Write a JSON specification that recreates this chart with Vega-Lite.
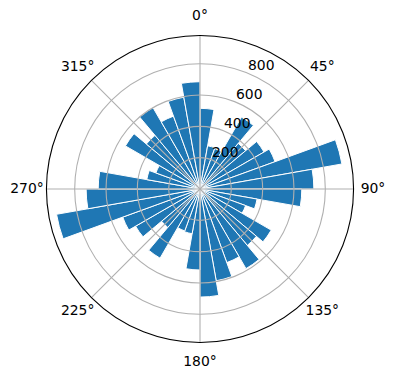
{
  "$schema": "https://vega.github.io/schema/vega-lite/v6.json",
  "autosize": "none",
  "width": 392,
  "height": 378,
  "padding": {"left": 4, "top": 0, "right": 0, "bottom": 2},
  "background": "white",
  "config": {"view": {"stroke": null}, "text": {"font": "DejaVu Sans"}},
  "datasets": {
    "bars": [
      {"t0": 0, "t1": 10, "v": 515},
      {"t0": 10, "t1": 20, "v": 280},
      {"t0": 20, "t1": 30, "v": 275},
      {"t0": 30, "t1": 40, "v": 530},
      {"t0": 40, "t1": 50, "v": 380},
      {"t0": 50, "t1": 60, "v": 472},
      {"t0": 60, "t1": 70, "v": 510},
      {"t0": 70, "t1": 80, "v": 920},
      {"t0": 80, "t1": 90, "v": 727},
      {"t0": 90, "t1": 100, "v": 650},
      {"t0": 100, "t1": 110, "v": 370},
      {"t0": 110, "t1": 120, "v": 310},
      {"t0": 120, "t1": 130, "v": 525},
      {"t0": 130, "t1": 140, "v": 470},
      {"t0": 140, "t1": 150, "v": 587},
      {"t0": 150, "t1": 160, "v": 500},
      {"t0": 160, "t1": 170, "v": 595},
      {"t0": 170, "t1": 180, "v": 690},
      {"t0": 180, "t1": 190, "v": 517},
      {"t0": 190, "t1": 200, "v": 290},
      {"t0": 200, "t1": 210, "v": 285},
      {"t0": 210, "t1": 220, "v": 510},
      {"t0": 220, "t1": 230, "v": 320},
      {"t0": 230, "t1": 240, "v": 475},
      {"t0": 240, "t1": 250, "v": 525},
      {"t0": 250, "t1": 260, "v": 930},
      {"t0": 260, "t1": 270, "v": 727},
      {"t0": 270, "t1": 280, "v": 650},
      {"t0": 280, "t1": 290, "v": 345},
      {"t0": 290, "t1": 300, "v": 300},
      {"t0": 300, "t1": 310, "v": 550},
      {"t0": 310, "t1": 320, "v": 447},
      {"t0": 320, "t1": 330, "v": 600},
      {"t0": 330, "t1": 340, "v": 495},
      {"t0": 340, "t1": 350, "v": 595},
      {"t0": 350, "t1": 360, "v": 685}
    ],
    "rings": [{"r": 200, "l": "200"}, {"r": 400, "l": "400"}, {"r": 600, "l": "600"}, {"r": 800, "l": "800"}],
    "spokes": [
      {"a": 0, "l": "0°"}, {"a": 45, "l": "45°"}, {"a": 90, "l": "90°"}, {"a": 135, "l": "135°"},
      {"a": 180, "l": "180°"}, {"a": 225, "l": "225°"}, {"a": 270, "l": "270°"}, {"a": 315, "l": "315°"}
    ]
  },
  "layer": [
    {
      "data": {"name": "bars"},
      "mark": {"type": "arc", "fill": "#1f77b4", "stroke": "white", "strokeWidth": 1},
      "encoding": {
        "theta": {"field": "t0", "type": "quantitative", "stack": null, "scale": {"domain": [0, 360], "range": [0, 6.283185307179586], "zero": false, "nice": false}},
        "theta2": {"field": "t1"},
        "radius": {"field": "v", "type": "quantitative", "scale": {"type": "linear", "domain": [0, 980], "range": [0, 153.5], "zero": true, "nice": false}},
        "radius2": {"datum": 0}
      }
    },
    {
      "data": {"name": "rings"},
      "mark": {"type": "arc", "fill": "transparent", "stroke": "#b0b0b0", "strokeWidth": 1.1},
      "encoding": {
        "theta": {"datum": 0, "type": "quantitative"},
        "theta2": {"datum": 360},
        "radius": {"field": "r", "type": "quantitative"},
        "radius2": {"datum": 0}
      }
    },
    {
      "data": {"name": "spokes"},
      "mark": {"type": "arc", "fill": "transparent", "stroke": "#b0b0b0", "strokeWidth": 1.1},
      "encoding": {
        "theta": {"field": "a", "type": "quantitative", "stack": null},
        "theta2": {"field": "a"},
        "radius": {"datum": 980, "type": "quantitative"},
        "radius2": {"datum": 0}
      }
    },
    {
      "data": {"values": [{"outer": 980}]},
      "mark": {"type": "arc", "fill": "transparent", "stroke": "black", "strokeWidth": 1.1},
      "encoding": {
        "theta": {"datum": 0, "type": "quantitative"},
        "theta2": {"datum": 360},
        "radius": {"field": "outer", "type": "quantitative"},
        "radius2": {"datum": 0}
      }
    },
    {
      "data": {"name": "spokes"},
      "mark": {"type": "text", "fontSize": 13.9, "align": "center", "baseline": "middle", "radiusOffset": 19.5, "color": "black"},
      "encoding": {
        "theta": {"field": "a", "type": "quantitative", "stack": null},
        "radius": {"datum": 980, "type": "quantitative"},
        "text": {"field": "l"}
      }
    },
    {
      "data": {"name": "rings"},
      "mark": {"type": "text", "fontSize": 13.9, "align": "left", "baseline": "bottom", "color": "black"},
      "encoding": {
        "theta": {"datum": 22.5, "type": "quantitative"},
        "radius": {"field": "r", "type": "quantitative"},
        "text": {"field": "l"}
      }
    }
  ]
}
